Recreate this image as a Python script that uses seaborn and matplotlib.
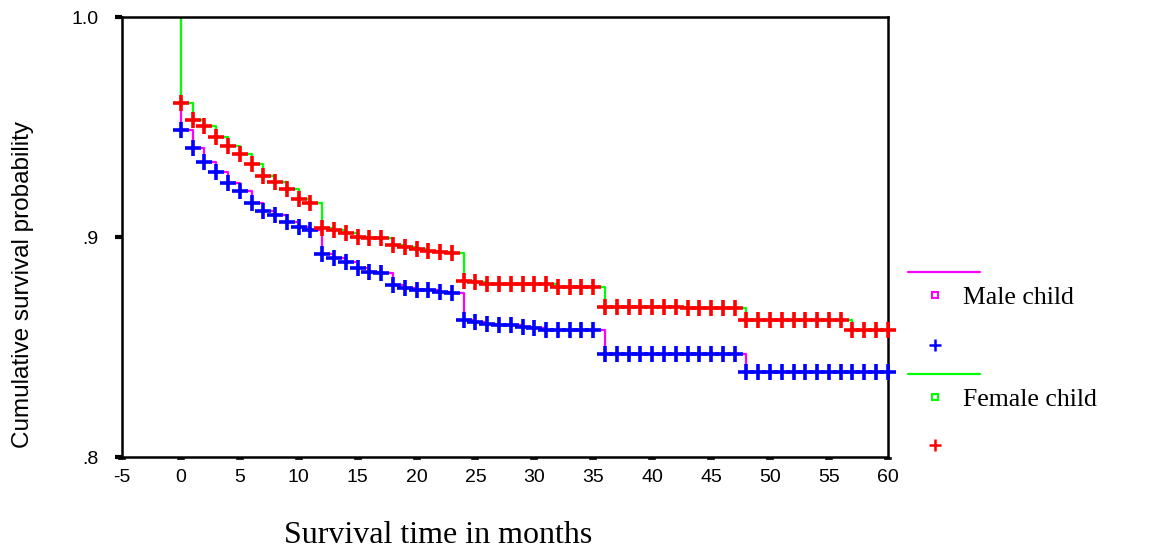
import pandas as pd
import numpy as np
import seaborn as sns
import matplotlib
matplotlib.use('Agg')
import matplotlib.pyplot as plt
from matplotlib.lines import Line2D

# survival estimate after each month (censored cases every month)
months = list(range(61))

male_surv = [0.9486, 0.9406, 0.9340, 0.9297, 0.9244, 0.9209, 0.9156, 0.9120, 0.9100, 0.9067,
             0.9047, 0.9032, 0.8921, 0.8903, 0.8885, 0.8858, 0.8840, 0.8835, 0.8782, 0.8767,
             0.8760, 0.8760, 0.8752, 0.8744, 0.8623, 0.8615, 0.8603, 0.8600, 0.8598, 0.8592,
             0.8585, 0.8577, 0.8577, 0.8577, 0.8577, 0.8577,
             0.8467, 0.8467, 0.8467, 0.8467, 0.8467, 0.8467, 0.8467, 0.8467, 0.8467, 0.8467,
             0.8467, 0.8467,
             0.8385, 0.8385, 0.8385, 0.8385, 0.8385, 0.8385, 0.8385, 0.8385, 0.8385, 0.8385,
             0.8385, 0.8385, 0.8385]

female_surv = [0.9610, 0.9530, 0.9505, 0.9453, 0.9415, 0.9377, 0.9332, 0.9279, 0.9250, 0.9217,
               0.9171, 0.9153, 0.9042, 0.9032, 0.9017, 0.9000, 0.8997, 0.8997, 0.8964, 0.8955,
               0.8945, 0.8938, 0.8932, 0.8926, 0.8800, 0.8794,
               0.8785, 0.8785, 0.8785, 0.8785, 0.8785, 0.8785,
               0.8774, 0.8774, 0.8774, 0.8774,
               0.8683, 0.8683, 0.8683, 0.8683, 0.8683, 0.8683, 0.8683,
               0.8676, 0.8676, 0.8676, 0.8676, 0.8676,
               0.8623, 0.8623, 0.8623, 0.8623, 0.8623, 0.8623, 0.8623, 0.8623, 0.8623,
               0.8577, 0.8577, 0.8577, 0.8577]

groups = ['Male child', 'Female child']
line_colors = {'Male child': '#ff00ff', 'Female child': '#00ff00'}
cens_colors = {'Male child': '#0000ff', 'Female child': '#ff0000'}

rows = []
cens_rows = []
for g, surv in zip(groups, [male_surv, female_surv]):
    rows.append((g, 0, 1.0))
    for m, s in zip(months, surv):
        rows.append((g, m, s))
        cens_rows.append((g, m, s))
curves = pd.DataFrame(rows, columns=['group', 't', 'S'])
censored = pd.DataFrame(cens_rows, columns=['group', 't', 'S'])

sns.set_style('white')
plt.rcParams['font.family'] = ['Liberation Sans', 'DejaVu Sans']
plt.rcParams['axes.unicode_minus'] = False
plt.rcParams['text.color'] = 'black'

fig = plt.figure(figsize=(11.56, 5.54), dpi=100)
ax = fig.add_axes([0.1055, 0.175, 0.6625, 0.7943])

for g in groups:
    sub = curves[curves['group'] == g]
    sns.lineplot(data=sub, x='t', y='S', color=line_colors[g], estimator=None, sort=False,
                 drawstyle='steps-post', lw=1.6, ax=ax, legend=False, zorder=2)
    csub = censored[censored['group'] == g]
    sns.scatterplot(data=csub, x='t', y='S', color=cens_colors[g], marker='+', s=140,
                    linewidth=2.6, ax=ax, legend=False, clip_on=False, zorder=3)

ax.set_xlim(-5, 60)
ax.set_ylim(0.8, 1.0)
ax.set_xticks(np.arange(-5, 61, 5))
ax.set_yticks([0.8, 0.9, 1.0])
ax.set_yticklabels(['.8', '.9', '1.0'])
ax.set_xlabel('')
ax.set_ylabel('')
for sp in ax.spines.values():
    sp.set_visible(True)
    sp.set_color('black')
    sp.set_linewidth(1.8)
ax.tick_params(axis='x', direction='out', length=2.5, width=5.5, color='#222222',
               labelsize=14, labelcolor='black', pad=6, bottom=True)
ax.tick_params(axis='y', direction='out', length=5, width=3, color='black',
               labelsize=14, labelcolor='black', pad=12, left=True)

fig.text(0.379, 0.033, 'Survival time in months', ha='center', va='center',
         family='Liberation Serif', fontsize=23)
fig.text(0.02, 0.4856, 'Cumulative survival probability', ha='center', va='center',
         rotation=90, fontsize=17.5)

# legend drawn to the right of the plot
leg_items = [
    ('Male child', 0.509, 0.4675, 0.3773),
    ('Female child', 0.325, 0.2834, 0.1968),
]
for g, ly, sy, cy in leg_items:
    fig.add_artist(Line2D([0.7855, 0.8478], [ly, ly], color=line_colors[g], lw=1.6,
                          transform=fig.transFigure))
    fig.add_artist(Line2D([0.8088], [sy], marker='s', markersize=4, mfc='white',
                          mec=line_colors[g], mew=1.5, transform=fig.transFigure))
    fig.add_artist(Line2D([0.8088], [cy], marker='+', markersize=9, mew=1.8,
                          color=cens_colors[g], transform=fig.transFigure))
    fig.text(0.833, sy - 0.006, g, ha='left', va='center', family='Liberation Serif',
             fontsize=18.5)

fig.savefig('out.png', dpi=100)
